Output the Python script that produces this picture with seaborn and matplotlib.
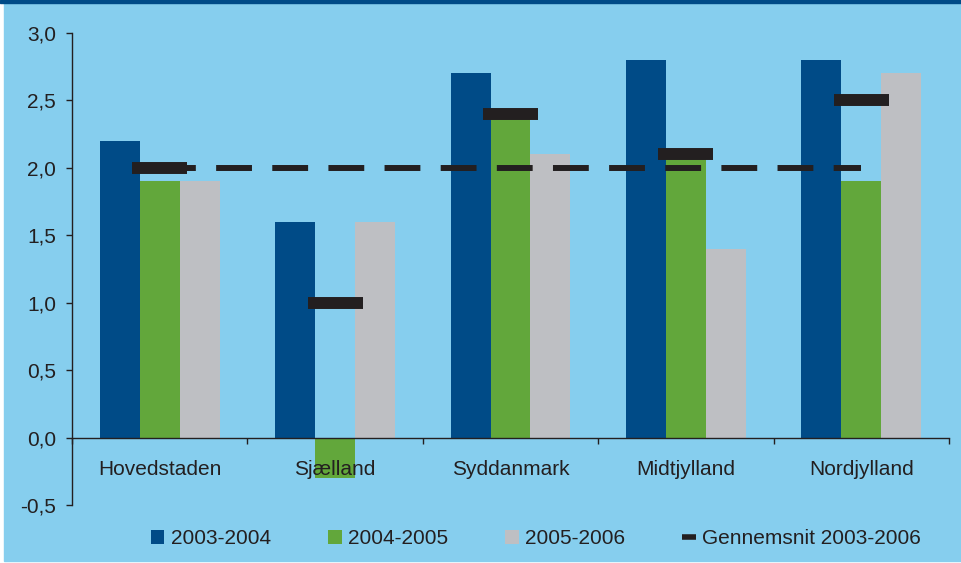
import matplotlib
matplotlib.use("Agg")
import matplotlib.pyplot as plt
import numpy as np
import pandas as pd
import seaborn as sns
from matplotlib.lines import Line2D
from matplotlib.patches import Rectangle

# data
regions = ["Hovedstaden", "Sjælland", "Syddanmark", "Midtjylland", "Nordjylland"]
periods = ["2003-2004", "2004-2005", "2005-2006"]
v_2003_2004 = [2.2, 1.6, 2.7, 2.8, 2.8]
v_2004_2005 = [1.9, -0.3, 2.4, 2.1, 1.9]
v_2005_2006 = [1.9, 1.6, 2.1, 1.4, 2.7]
avg_2003_2006 = [2.0, 1.0, 2.4, 2.1, 2.5]
overall_avg = [2.0, 2.0, 2.0, 2.0, 2.0]
avg_label = "Gennemsnit 2003-2006"
y_ticks = [-0.5, 0.0, 0.5, 1.0, 1.5, 2.0, 2.5, 3.0]
y_tick_labels = ["-0,5", "0,0", "0,5", "1,0", "1,5", "2,0", "2,5", "3,0"]

BG = "#86CEEE"
DARK = "#231F20"
colors = ["#004B87", "#62A73B", "#BEBFC3"]
FS = 15

df = pd.DataFrame({
    "region": regions * 3,
    "period": np.repeat(periods, len(regions)),
    "value": v_2003_2004 + v_2004_2005 + v_2005_2006,
})

sns.set_theme(style="ticks")
plt.rcParams["font.family"] = ["Liberation Sans", "DejaVu Sans"]

fig = plt.figure(figsize=(9.62, 5.63), dpi=100, facecolor="white")
# background frame: light blue panel, dark band on top
fig.patches.append(Rectangle((4 / 962, 2 / 563), 1, 1, transform=fig.transFigure,
                             color=BG, zorder=-10))
fig.patches.append(Rectangle((0, 1 - 3 / 563), 1, 3 / 563, transform=fig.transFigure,
                             color="#004B87", zorder=-9))

ax = fig.add_axes([72 / 962, 1 - 505 / 563, (949 - 72) / 962, (505 - 33) / 563])
ax.set_facecolor("none")
ax.set_axisbelow(False)

sns.barplot(data=df, x="region", y="value", hue="period", palette=colors,
            width=0.684, saturation=1, linewidth=0, edgecolor="none",
            ax=ax, legend=True, zorder=2)

x = np.arange(len(regions))
ax.plot(x, overall_avg, color=DARK, lw=4.3, dashes=(6.0, 3.4),
        dash_capstyle="butt", zorder=3)
ax.hlines(avg_2003_2006, x - 0.157, x + 0.157, color=DARK, lw=8.6, zorder=4)

ax.set_xlim(-0.5, len(regions) - 0.5)
ax.set_ylim(-0.5, 3.0)
ax.set_yticks(y_ticks, y_tick_labels)
ax.set_xlabel("")
ax.set_ylabel("")

sns.despine(ax=ax)
for s in ["left", "bottom"]:
    ax.spines[s].set_color(DARK)
    ax.spines[s].set_linewidth(1.0)
ax.spines["bottom"].set_position(("data", 0))

ax.tick_params(axis="y", direction="out", length=4.5, width=1, color=DARK,
               labelsize=FS, labelcolor=DARK, pad=7)
ax.set_xticks(np.arange(-0.5, len(regions)), minor=True)
ax.tick_params(axis="x", which="minor", direction="out", length=4.5, width=1,
               color=DARK)
ax.tick_params(axis="x", which="major", length=0, labelsize=FS,
               labelcolor=DARK, pad=16)

handles, labels = ax.get_legend_handles_labels()
handles.append(Line2D([], [], color=DARK, lw=4, solid_capstyle="butt"))
labels.append(avg_label)
ax.legend(handles, labels, loc="center", bbox_to_anchor=(536 / 962, 1 - 539 / 563),
          bbox_transform=fig.transFigure, ncol=4, frameon=False, fontsize=FS,
          handlelength=0.65, handleheight=0.65, handletextpad=0.3,
          columnspacing=2.75, labelcolor=DARK)

fig.savefig("out.png", dpi=100, facecolor=fig.get_facecolor())
